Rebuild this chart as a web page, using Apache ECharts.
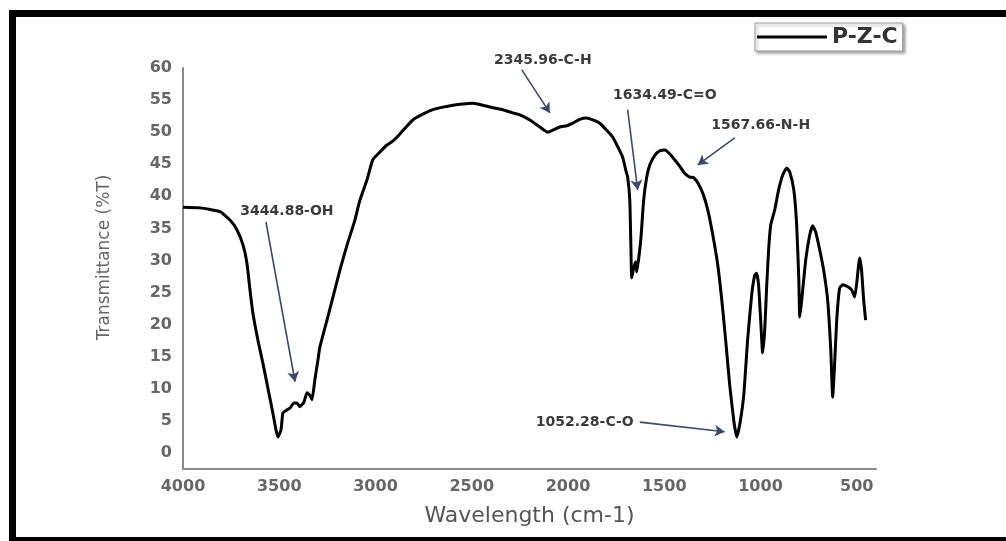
<!DOCTYPE html>
<html>
<head>
<meta charset="utf-8">
<title>P-Z-C FTIR</title>
<script src="https://cdn.jsdelivr.net/npm/echarts@6/dist/echarts.min.js"></script>
<style>
    html, body { margin: 0; padding: 0; background: #fff; }
    #chart { width: 1006px; height: 541px; }
</style>
</head>
<body>
<div id="chart"></div>
<script>
// 波数 (cm-1)
var wavenumbers = [
    4000,3912,3808,3756,3720,3688,3668,3652,3637,3611,
    3585,3559,3533,3517,3507,3491,3481,3460,3444,3424,
    3408,3393,3372,3356,3341,3330,3315,3299,3289,3252,
    3221,3185,3148,3107,3081,3045,3014,2977,2941,2915,
    2889,2847,2806,2754,2702,2650,2598,2546,2494,2442,
    2390,2339,2287,2250,2198,2146,2105,2079,2043,2006,
    1975,1939,1902,1871,1835,1799,1767,1741,1716,1700,
    1690,1679,1674,1669,1659,1648,1643,1622,1607,1591,
    1575,1549,1523,1497,1471,1446,1420,1394,1368,1347,
    1326,1300,1274,1248,1222,1201,1181,1160,1139,1124,
    1108,1087,1067,1046,1030,1020,1010,999,989,978,
    968,958,947,926,906,885,864,848,827,812,
    801,796,786,765,744,729,713,692,672,651,
    635,625,614,604,589,573,547,526,511,500,
    485,475,464,454
]
// 透过率 (%T)
var transmittance = [
    38.3,38.2,37.6,36.3,34.8,32.4,29.6,25.4,21.8,17.6,
    14.0,10.1,6.2,3.6,2.5,3.6,6.2,6.7,7.0,7.8,
    7.8,7.2,7.9,9.4,9.0,8.3,11.4,14.5,16.5,20.7,
    24.3,28.5,32.4,36.3,39.4,42.5,45.7,46.9,48.0,48.5,
    49.2,50.6,51.9,52.8,53.5,53.9,54.2,54.4,54.5,54.2,
    53.8,53.5,53.0,52.7,51.9,50.8,50.0,50.3,50.8,51.0,
    51.4,52.0,52.2,51.9,51.4,50.3,49.2,47.7,46.1,44.1,
    43.0,39.4,33.2,27.3,28.8,29.8,28.2,33.2,39.4,43.0,
    44.9,46.4,47.1,47.2,46.6,45.7,44.7,43.6,43.0,42.9,
    42.1,40.5,37.9,34.0,29.3,23.8,17.6,10.6,5.1,2.5,
    4.4,9.0,17.6,24.6,27.7,28.0,26.2,20.7,15.6,19.2,
    25.9,31.6,35.5,37.9,41.0,43.3,44.4,43.8,41.0,35.5,
    27.0,21.2,23.8,30.1,34.0,35.4,34.4,31.6,28.5,23.8,
    16.1,8.7,14.5,20.7,25.7,26.2,25.9,25.4,24.3,26.5,
    30.4,28.5,23.8,20.7
]
var xTicks = [4000,3500,3000,2500,2000,1500,1000,500]
var yTicks = [0,5,10,15,20,25,30,35,40,45,50,55,60]

// 标注: 文字位置 + 箭头起止 (数据坐标)
var noteTexts = ['3444.88-OH','2345.96-C-H','1634.49-C=O','1567.66-N-H','1052.28-C-O']
var notePos = [[3460,37.6],[2131,60],[1497,55.8],[999,51.1],[1913,4.7]]
var noteShift = [0,-8,0,0,0]
var arrowFrom = [[3569,36.0],[2240,59.7],[1690,53.5],[1134,49.1],[1627,4.8]]
var arrowTo = [[3418,11.1],[2094,53.0],[1638,41.0],[1326,44.9],[1186,3.3]]

var points = []
for (var i = 0; i < wavenumbers.length; i++) {
    points.push([wavenumbers[i], transmittance[i]])
}
var notePoints = []
var arrows = []
for (var k = 0; k < noteTexts.length; k++) {
    notePoints.push({ coord: notePos[k], value: noteTexts[k], label: { offset: [0, noteShift[k]] } })
    arrows.push([{ coord: arrowFrom[k] }, { coord: arrowTo[k] }])
}

var tickFont = { color: '#666', fontSize: 16, fontWeight: 'bold', fontFamily: 'DejaVu Sans' }
var axisLineStyle = { color: '#8a8a8a', width: 2 }
var plain = function (v) { return String(v) }

var myChart = echarts.init(document.getElementById('chart'), null, { renderer: 'canvas' })

var option = {
    backgroundColor: '#fff',
    animation: false,
    grid: { left: 183, right: 130, top: 68, bottom: 72 },
    legend: {
        data: ['P-Z-C'],
        left: 755,
        top: 23,
        icon: 'rect',
        itemWidth: 70,
        itemHeight: 3,
        padding: [3, 5, 3, 2],
        backgroundColor: '#fff',
        borderColor: '#999',
        borderWidth: 1,
        shadowColor: 'rgba(0,0,0,0.35)',
        shadowBlur: 3,
        shadowOffsetX: 2,
        shadowOffsetY: 2,
        textStyle: { color: '#333', fontSize: 22, fontWeight: 'bold', fontFamily: 'DejaVu Sans' }
    },
    xAxis: {
        type: 'value',
        inverse: true,
        min: 400,
        max: 4000,
        name: 'Wavelength (cm-1)',
        nameLocation: 'middle',
        nameGap: 36,
        nameTextStyle: { color: '#555', fontSize: 22, fontFamily: 'DejaVu Sans' },
        axisLine: { onZero: false, lineStyle: axisLineStyle },
        axisTick: { show: false },
        splitLine: { show: false },
        axisLabel: Object.assign({ customValues: xTicks, margin: 10, formatter: plain }, tickFont)
    },
    yAxis: {
        type: 'value',
        min: -2.5,
        max: 60,
        name: 'Transmittance (%T)',
        nameLocation: 'middle',
        nameGap: 70,
        nameTextStyle: { color: '#666', fontSize: 17, fontFamily: 'DejaVu Sans', padding: [0, 0, 0, 22] },
        axisLine: { show: true, onZero: false, lineStyle: axisLineStyle },
        axisTick: { show: false },
        splitLine: { show: false },
        axisLabel: Object.assign({ customValues: yTicks, margin: 11, formatter: plain }, tickFont)
    },
    series: [{
        name: 'P-Z-C',
        type: 'line',
        data: points,
        showSymbol: false,
        smooth: 0.15,
        color: '#000',
        lineStyle: { color: '#000', width: 3 },
        clip: false,
        markPoint: {
            symbol: 'circle',
            symbolSize: 0,
            silent: true,
            label: {
                show: true,
                position: 'inside',
                formatter: function (p) { return p.value },
                color: '#3a3a3a',
                fontSize: 14,
                fontWeight: 'bold',
                fontFamily: 'DejaVu Sans'
            },
            data: notePoints
        },
        markLine: {
            silent: true,
            symbol: ['none', 'arrow'],
            symbolSize: [9, 10],
            label: { show: false },
            lineStyle: { color: '#3b4a6b', width: 1.6, type: 'solid' },
            data: arrows
        }
    }],
    // 外框
    graphic: [
        { type: 'rect', shape: { x: 9, y: 10, width: 997, height: 7 }, style: { fill: '#000' } },
        { type: 'rect', shape: { x: 9, y: 10, width: 7, height: 531 }, style: { fill: '#000' } },
        { type: 'rect', shape: { x: 9, y: 537, width: 997, height: 4 }, style: { fill: '#000' } }
    ]
}

myChart.setOption(option)
</script>
</body>
</html>
